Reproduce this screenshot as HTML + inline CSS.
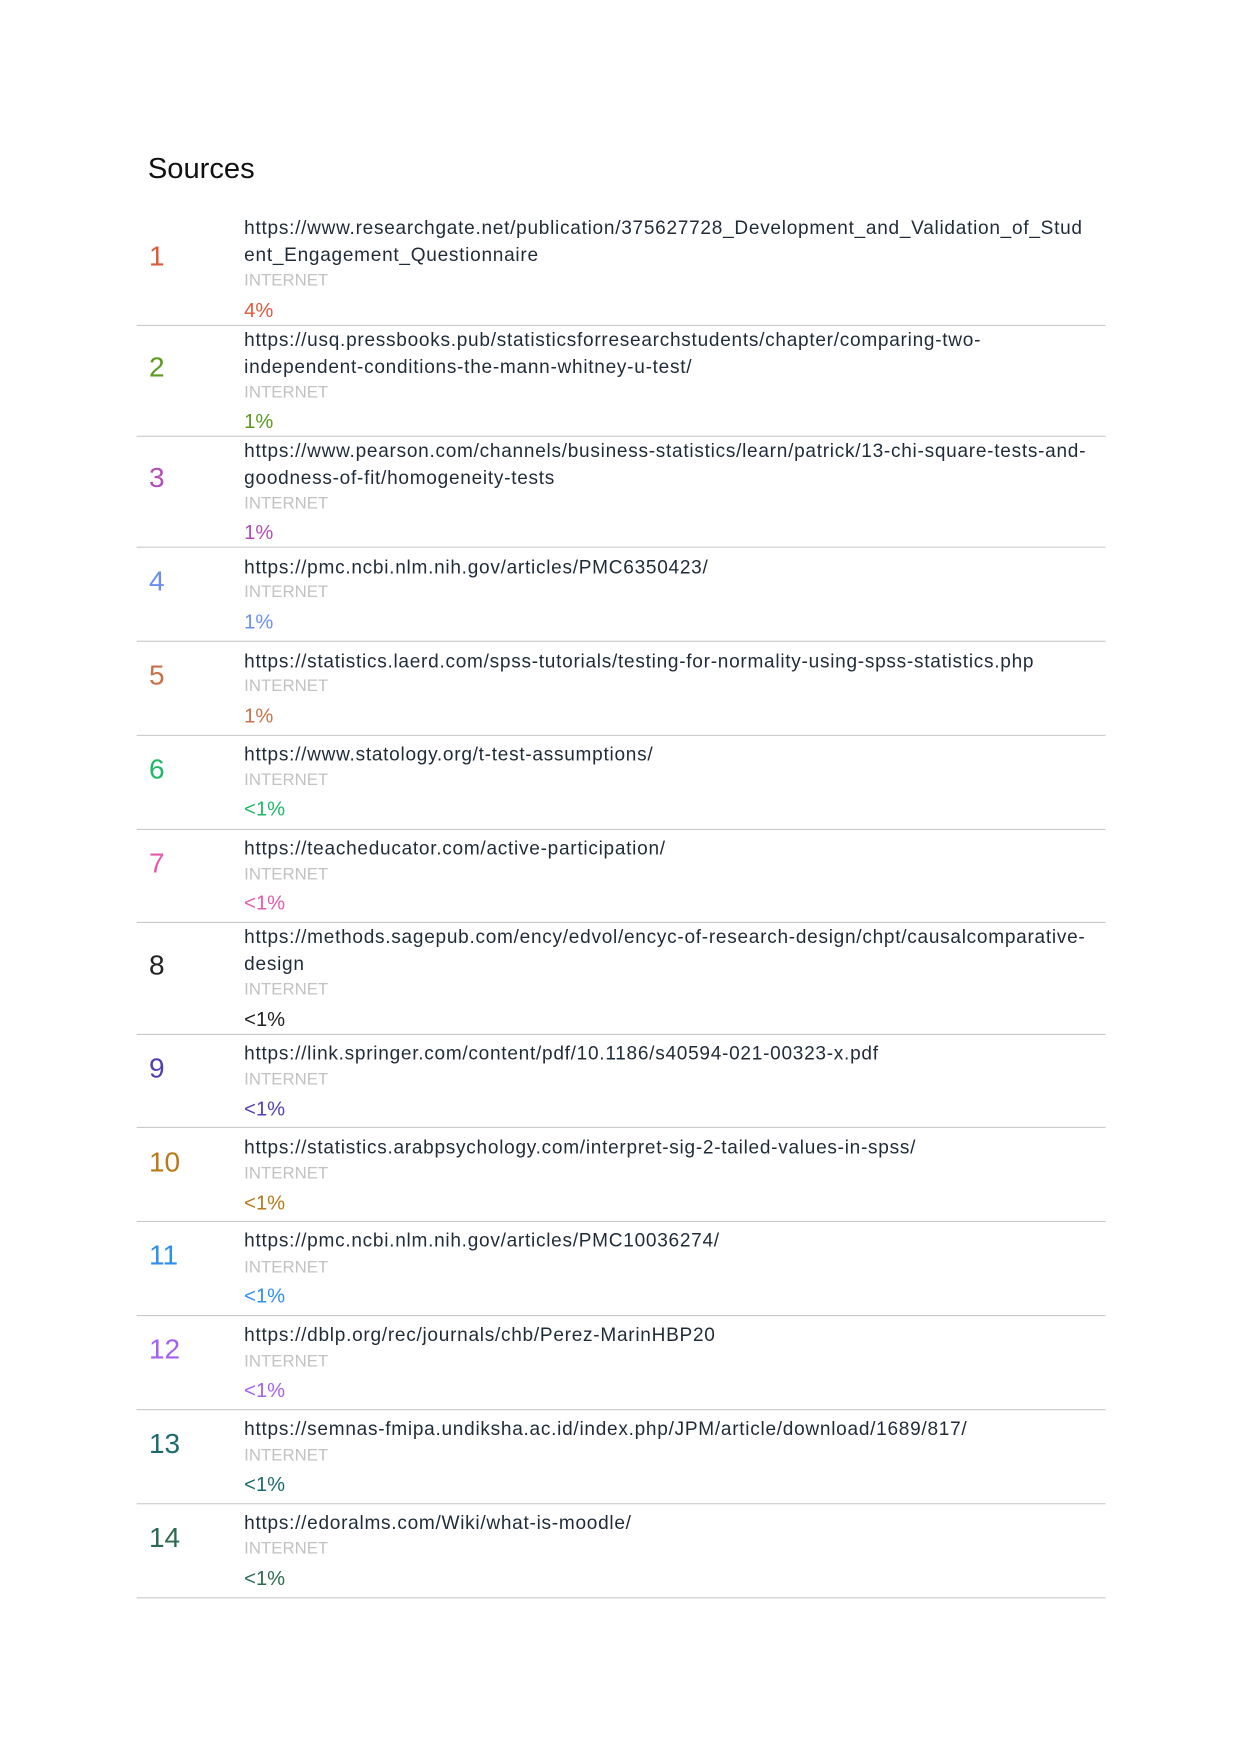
<!DOCTYPE html>
<html><head><meta charset="utf-8"><style>
html,body{margin:0;padding:0;background:#fff;}
body{width:1240px;height:1754px;overflow:hidden;position:relative;font-family:"Liberation Sans",sans-serif;}
#c{position:absolute;left:0;top:0;width:1107px;height:1566px;transform:scale(1.1201);transform-origin:0 0;}
#c div{position:absolute;white-space:nowrap;}
.u{left:218px;font-size:17px;letter-spacing:0.65px;line-height:20px;color:#1f2b38;}
.i{left:218px;font-size:15px;line-height:20px;color:#c2c2c2;}
.p{left:218px;font-size:18px;line-height:20px;}
.n{left:133px;font-size:25px;line-height:30px;}
.s{left:122px;width:865px;height:0;border-top:1.5px solid #c9c9c9;}
</style></head><body><div id="c">
<div style="left:132px;top:133px;font-size:26px;line-height:34px;color:#111">Sources</div>

<div class="n" style="top:214px;color:#dc5a3c">1</div>
<div class="u" style="top:194px">https://www.researchgate.net/publication/375627728_Development_and_Validation_of_Stud</div>
<div class="u" style="top:218px">ent_Engagement_Questionnaire</div>
<div class="i" style="top:241px">INTERNET</div>
<div class="p" style="top:267px;color:#dc5a3c">4%</div>
<div class="s" style="top:290px"></div>

<div class="n" style="top:313px;color:#5b9a1c">2</div>
<div class="u" style="top:294px">https://usq.pressbooks.pub/statisticsforresearchstudents/chapter/comparing-two-</div>
<div class="u" style="top:318px">independent-conditions-the-mann-whitney-u-test/</div>
<div class="i" style="top:341px">INTERNET</div>
<div class="p" style="top:366px;color:#5b9a1c">1%</div>
<div class="s" style="top:389px"></div>

<div class="n" style="top:412px;color:#b24cb6">3</div>
<div class="u" style="top:393px">https://www.pearson.com/channels/business-statistics/learn/patrick/13-chi-square-tests-and-</div>
<div class="u" style="top:417px">goodness-of-fit/homogeneity-tests</div>
<div class="i" style="top:440px">INTERNET</div>
<div class="p" style="top:465px;color:#b24cb6">1%</div>
<div class="s" style="top:488px"></div>

<div class="n" style="top:504px;color:#6b8ff0">4</div>
<div class="u" style="top:497px">https://pmc.ncbi.nlm.nih.gov/articles/PMC6350423/</div>
<div class="i" style="top:519px">INTERNET</div>
<div class="p" style="top:545px;color:#6b8ff0">1%</div>
<div class="s" style="top:572px"></div>

<div class="n" style="top:588px;color:#c9704a">5</div>
<div class="u" style="top:581px">https://statistics.laerd.com/spss-tutorials/testing-for-normality-using-spss-statistics.php</div>
<div class="i" style="top:603px">INTERNET</div>
<div class="p" style="top:629px;color:#c9704a">1%</div>
<div class="s" style="top:656px"></div>

<div class="n" style="top:672px;color:#1eb866">6</div>
<div class="u" style="top:664px">https://www.statology.org/t-test-assumptions/</div>
<div class="i" style="top:687px">INTERNET</div>
<div class="p" style="top:712px;color:#1eb866">&lt;1%</div>
<div class="s" style="top:740px"></div>

<div class="n" style="top:756px;color:#e45aac">7</div>
<div class="u" style="top:748px">https://teacheducator.com/active-participation/</div>
<div class="i" style="top:771px">INTERNET</div>
<div class="p" style="top:796px;color:#e45aac">&lt;1%</div>
<div class="s" style="top:823px"></div>

<div class="n" style="top:847px;color:#222">8</div>
<div class="u" style="top:827px">https://methods.sagepub.com/ency/edvol/encyc-of-research-design/chpt/causalcomparative-</div>
<div class="u" style="top:851px">design</div>
<div class="i" style="top:874px">INTERNET</div>
<div class="p" style="top:900px;color:#222">&lt;1%</div>
<div class="s" style="top:923px"></div>

<div class="n" style="top:939px;color:#5040b0">9</div>
<div class="u" style="top:931px">https://link.springer.com/content/pdf/10.1186/s40594-021-00323-x.pdf</div>
<div class="i" style="top:954px">INTERNET</div>
<div class="p" style="top:980px;color:#5040b0">&lt;1%</div>
<div class="s" style="top:1006px"></div>

<div class="n" style="top:1023px;color:#b67a18">10</div>
<div class="u" style="top:1015px">https://statistics.arabpsychology.com/interpret-sig-2-tailed-values-in-spss/</div>
<div class="i" style="top:1038px">INTERNET</div>
<div class="p" style="top:1064px;color:#b67a18">&lt;1%</div>
<div class="s" style="top:1090px"></div>

<div class="n" style="top:1106px;color:#2f8ef0">11</div>
<div class="u" style="top:1098px">https://pmc.ncbi.nlm.nih.gov/articles/PMC10036274/</div>
<div class="i" style="top:1122px">INTERNET</div>
<div class="p" style="top:1147px;color:#2f8ef0">&lt;1%</div>
<div class="s" style="top:1174px"></div>

<div class="n" style="top:1190px;color:#a460ee">12</div>
<div class="u" style="top:1182px">https://dblp.org/rec/journals/chb/Perez-MarinHBP20</div>
<div class="i" style="top:1206px">INTERNET</div>
<div class="p" style="top:1231px;color:#a460ee">&lt;1%</div>
<div class="s" style="top:1258px"></div>

<div class="n" style="top:1274px;color:#1c6a6c">13</div>
<div class="u" style="top:1266px">https://semnas-fmipa.undiksha.ac.id/index.php/JPM/article/download/1689/817/</div>
<div class="i" style="top:1290px">INTERNET</div>
<div class="p" style="top:1315px;color:#1c6a6c">&lt;1%</div>
<div class="s" style="top:1342px"></div>

<div class="n" style="top:1358px;color:#2a6a50">14</div>
<div class="u" style="top:1350px">https://edoralms.com/Wiki/what-is-moodle/</div>
<div class="i" style="top:1373px">INTERNET</div>
<div class="p" style="top:1399px;color:#2a6a50">&lt;1%</div>
<div class="s" style="top:1426px"></div>
</div></body></html>
